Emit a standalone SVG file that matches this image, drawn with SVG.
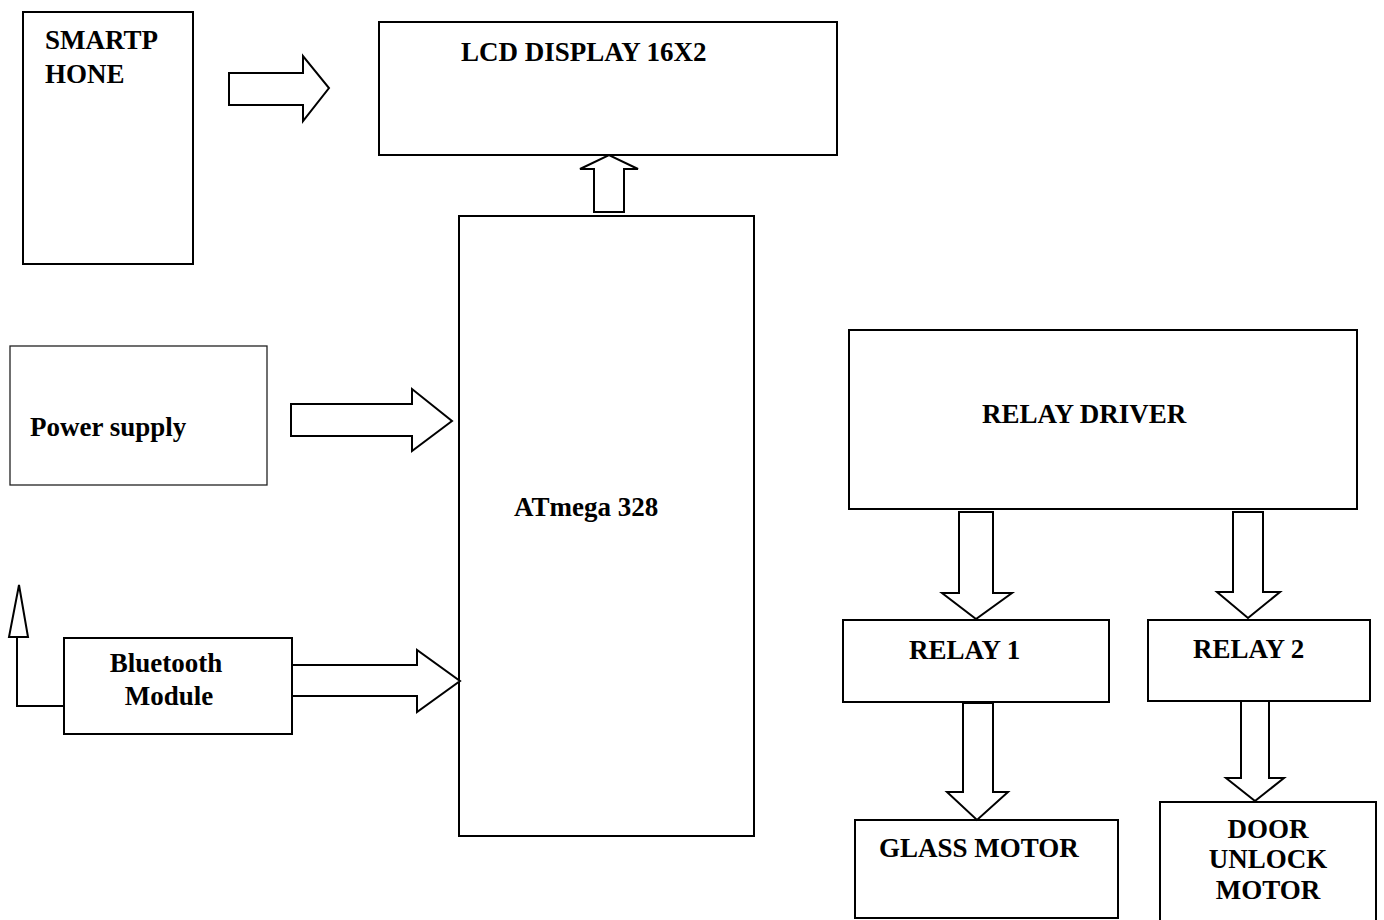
<svg xmlns="http://www.w3.org/2000/svg" width="1384" height="920" viewBox="0 0 1384 920">
<style>
.box{fill:#fff;stroke:#000;stroke-width:2}
.thin{fill:#fff;stroke:#222;stroke-width:1.3}
.arr{fill:#fff;stroke:#000;stroke-width:2;stroke-linejoin:miter}
.ln{fill:none;stroke:#000;stroke-width:2}
text{font-family:"Liberation Serif","Times New Roman",serif;font-weight:bold;font-size:27px;fill:#000}
.c{text-anchor:middle}
</style>
<rect width="1384" height="920" fill="#fff"/>
<g id="smartphone"><rect class="box" x="23" y="12" width="170" height="252"/><text x="45" y="49">SMARTP</text><text x="45" y="83">HONE</text></g>
<g id="lcd"><rect class="box" x="379" y="22" width="458" height="133"/><text x="461" y="61">LCD DISPLAY 16X2</text></g>
<g id="atmega"><rect class="box" x="459" y="216" width="295" height="620"/><text x="514" y="516">ATmega 328</text></g>
<g id="power"><rect class="thin" x="10" y="346" width="257" height="139"/><text x="30" y="436">Power supply</text></g>
<g id="bluetooth"><rect class="box" x="64" y="638" width="228" height="96"/><text class="c" x="166" y="672">Bluetooth</text><text class="c" x="169" y="705">Module</text></g>
<g id="relaydriver"><rect class="box" x="849" y="330" width="508" height="179"/><text x="982" y="423">RELAY DRIVER</text></g>
<g id="relay1"><rect class="box" x="843" y="620" width="266" height="82"/><text x="909" y="659">RELAY 1</text></g>
<g id="relay2"><rect class="box" x="1148" y="620" width="222" height="81"/><text x="1193" y="658">RELAY 2</text></g>
<g id="glassmotor"><rect class="box" x="855" y="820" width="263" height="98"/><text x="879" y="857">GLASS MOTOR</text></g>
<g id="doormotor"><rect class="box" x="1160" y="802" width="216" height="120"/><text class="c" x="1268" y="838">DOOR</text><text class="c" x="1268" y="868">UNLOCK</text><text class="c" x="1268" y="899">MOTOR</text></g>
<g id="connectors">
<polygon class="arr" points="229,73 303,73 303,56 329,88 303,121 303,105 229,105"/>
<polygon class="arr" points="594,212 594,169 580,169 609,155 638,169 624,169 624,212"/>
<polygon class="arr" points="291,404 412,404 412,389 452,421 412,451 412,436 291,436"/>
<polygon class="arr" points="292,665 417,665 417,650 460,681 417,712 417,696 292,696"/>
<polyline class="ln" points="64,706 17,706 17,637"/>
<polygon class="arr" points="9,637 28,637 19,585"/>
<polygon class="arr" points="959,512 993,512 993,593 1012,593 976,619 942,593 959,593"/>
<polygon class="arr" points="1233,512 1263,512 1263,592 1280,592 1248,618 1217,592 1233,592"/>
<polygon class="arr" points="963,703 993,703 993,792 1008,792 977,820 947,792 963,792"/>
<polygon class="arr" points="1241,701 1269,701 1269,778 1284,778 1255,801 1226,778 1241,778"/>
</g>
</svg>
